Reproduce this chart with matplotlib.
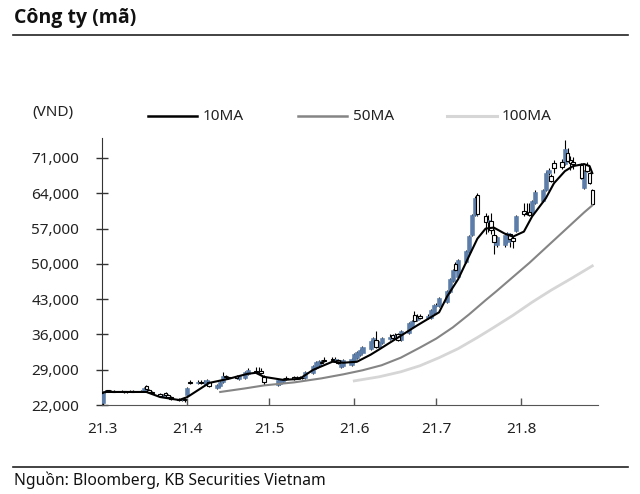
import matplotlib
matplotlib.use("Agg")
import matplotlib.pyplot as plt
import matplotlib.dates as mdates
from matplotlib.lines import Line2D
from matplotlib.ticker import FuncFormatter
import pandas as pd
import numpy as np

plt.rcParams['font.family'] = ['Noto Sans', 'DejaVu Sans']

# ---------------- data ----------------
holidays = ['2021-04-21', '2021-04-30', '2021-05-03']
dates = pd.bdate_range('2021-03-01', '2021-08-27')
dates = dates[~dates.isin(pd.to_datetime(holidays))]

opens = [
    # Mar
    22400, 24600, 24900, 24700, 24800, 24600, 24700, 24500, 24600, 24800, 24600, 24600,
    25800, 25000, 24600, 24200, 23800, 24400, 24000, 23600, 23200, 23000, 23200,
    # Apr
    24000, 26500, 26300, 26500, 26400, 26000, 26600, 25400, 25800, 26600, 27800, 27600,
    27800, 27200, 27400, 28200, 28800, 28600, 28800, 27600,
    # May
    26000, 26200, 26600, 27400, 27500, 27300, 27500, 27400, 27400, 28400, 29400, 30000,
    30600, 31000, 31200, 31000, 31000, 29600, 29800, 30000,
    # Jun
    30600, 31400, 32000, 32400, 33200, 34600, 35000, 33600, 34400, 35200, 35800, 35400,
    36000, 35000, 36200, 37400, 39800, 38800, 39600, 39200, 39200, 40200,
    # Jul
    41600, 41600, 42400, 44400, 46600, 50000, 47400, 50400, 52400, 55800, 59600, 63600,
    59400, 58400, 58600, 55800, 53800, 53800, 54400, 56000, 55200, 56600,
    # Aug
    60400, 60000, 60200, 60000, 62000, 62400, 64600, 68000, 67400, 70000, 70200, 69800,
    72000, 70600, 70200, 69600, 65000, 69600, 68000, 64600,
]
closes = [
    24400, 24800, 24700, 24800, 24600, 24700, 24500, 24600, 24800, 24600, 24700, 25400,
    25200, 24600, 24400, 23800, 24000, 24000, 23600, 23200, 23000, 23200, 23000,
    25400, 26300, 26500, 26400, 26500, 27000, 25800, 26000, 26600, 27800, 27500, 27400,
    27400, 27800, 28600, 29000, 28600, 28800, 28400, 26600,
    27000, 27000, 27200, 27200, 27200, 27400, 27300, 27300, 28600, 29800, 30600, 30800,
    30400, 30800, 31000, 31200, 30400, 30800, 31000, 31200,
    32200, 32600, 33000, 33600, 34800, 35400, 33600, 34600, 35400, 35600, 35400, 35800,
    35000, 36600, 38200, 38600, 38600, 39400, 39200, 39600, 40800, 41800,
    41800, 43200, 44600, 47000, 48800, 48800, 50800, 52600, 55600, 59600, 63000, 59800,
    58400, 58800, 56800, 54400, 55400, 55800, 56200, 55000, 54600, 59400,
    59800, 59800, 59600, 62400, 64200, 64600, 68000, 68600, 66400, 69000, 69200, 72800,
    70400, 70000, 69800, 67000, 68400, 68400, 66000, 61800,
]
highs = [
    24800, 25000, 25000, 25000, 24900, 24900, 24800, 24800, 25000, 24900, 24900, 25600,
    26000, 25200, 24800, 24400, 24200, 24600, 24200, 23800, 23400, 23400, 23400,
    25600, 27000, 27000, 27000, 27000, 27200, 26800, 26200, 26800, 28600, 28000, 27800,
    28000, 28000, 28800, 29400, 29600, 29600, 29400, 28000,
    27200, 27200, 27400, 27800, 27800, 27800, 27800, 27800, 28800, 30000, 30800, 31000,
    31000, 31600, 31600, 31600, 31200, 31000, 31200, 31400,
    32400, 32800, 33200, 33800, 35000, 35600, 36600, 34800, 35600, 36000, 36000, 36200,
    36200, 36800, 38400, 38800, 40600, 40000, 40000, 40000, 41000, 42000,
    42200, 43400, 44800, 47200, 49000, 50400, 51000, 52800, 55800, 59800, 63400, 64000,
    60000, 59600, 60000, 57000, 55600, 56000, 56400, 56200, 55600, 59600,
    62000, 62000, 62000, 62600, 64600, 64800, 68400, 69000, 67800, 70600, 70800, 74600,
    73000, 71400, 71200, 70000, 68600, 70200, 68200, 64800,
]
lows = [
    22000, 24400, 24600, 24600, 24500, 24500, 24400, 24400, 24500, 24500, 24500, 24500,
    25000, 24400, 24200, 23600, 23600, 23800, 23400, 23000, 22800, 22800, 22600,
    23800, 26100, 26200, 26200, 26200, 25800, 25600, 25200, 25600, 26400, 27200, 27200,
    27200, 27000, 27200, 28000, 28400, 28400, 28200, 26000,
    25800, 26000, 26400, 27000, 27000, 27100, 27100, 27100, 27200, 28200, 29200, 29800,
    30200, 30600, 30800, 30800, 30200, 29400, 29600, 29800,
    30400, 31200, 31800, 32200, 33000, 34400, 33400, 33400, 34200, 35000, 35200, 35200,
    34800, 34800, 36000, 37200, 38400, 38600, 39000, 39000, 39000, 40000,
    41400, 41400, 42200, 44200, 46400, 48600, 47200, 50200, 52200, 55600, 59400, 59400,
    56000, 56400, 56000, 52000, 53400, 53400, 54200, 53400, 53200, 56400,
    59400, 59600, 59400, 59800, 61800, 62200, 64400, 67600, 66200, 68000, 68800, 69600,
    70200, 68600, 68800, 66800, 64800, 68200, 65800, 61600,
]

ma10_dates = ['2021-03-01', '2021-03-02', '2021-03-17', '2021-03-22', '2021-03-29', '2021-04-01',
              '2021-04-09', '2021-04-16', '2021-04-23', '2021-04-26', '2021-04-29', '2021-05-06',
              '2021-05-12', '2021-05-17', '2021-05-24', '2021-05-28', '2021-06-02', '2021-06-07',
              '2021-06-10', '2021-06-17', '2021-06-24', '2021-07-02', '2021-07-05', '2021-07-09',
              '2021-07-13', '2021-07-16', '2021-07-19', '2021-07-22', '2021-07-26', '2021-07-29',
              '2021-08-02', '2021-08-05', '2021-08-10', '2021-08-13', '2021-08-17', '2021-08-20',
              '2021-08-24', '2021-08-26', '2021-08-27']
ma10_vals = [24400, 24600, 24600, 23600, 23000, 23600,
             26400, 27200, 28200, 28400, 27600, 27000,
             27200, 29000, 30600, 30400, 30600, 32000,
             33000, 35400, 37800, 40400, 43600, 47000,
             51600, 55000, 57000, 57200, 56000, 55400,
             56400, 59400, 63000, 66000, 68400, 69400,
             69800, 69400, 68000]

ma50_dates = ['2021-04-13', '2021-04-22', '2021-04-29', '2021-05-10', '2021-05-20', '2021-05-28',
              '2021-06-04', '2021-06-11', '2021-06-18', '2021-06-25', '2021-07-01', '2021-07-07',
              '2021-07-13', '2021-07-19', '2021-07-23', '2021-07-29', '2021-08-04', '2021-08-10',
              '2021-08-16', '2021-08-20', '2021-08-24', '2021-08-27']
ma50_vals = [24600, 25300, 25900, 26500, 27300, 28100,
             28900, 29900, 31400, 33400, 35200, 37400,
             40000, 42800, 44600, 47400, 50200, 53200,
             56200, 58200, 60200, 61600]

ma100_dates = ['2021-06-01', '2021-06-10', '2021-06-18', '2021-06-25', '2021-07-02', '2021-07-09',
               '2021-07-16', '2021-07-22', '2021-07-29', '2021-08-05', '2021-08-12', '2021-08-19',
               '2021-08-27']
ma100_vals = [26800, 27600, 28600, 29800, 31400, 33200, 35400, 37400, 39800, 42400, 44800, 47000, 49600]

yticks = [22000, 29000, 36000, 43000, 50000, 57000, 64000, 71000]
xtick_dates = ['2021-03-01', '2021-04-01', '2021-05-01', '2021-06-01', '2021-07-01', '2021-08-01']
xtick_labels = ['21.3', '21.4', '21.5', '21.6', '21.7', '21.8']

# ---------------- figure ----------------
fig = plt.figure(figsize=(6.4, 4.94), dpi=100)
ax = fig.add_axes([0.159, 0.180, 0.775, 0.541])

x = mdates.date2num(dates.to_pydatetime())
o = np.array(opens); c = np.array(closes); h = np.array(highs); l = np.array(lows)
up = c >= o
blue = '#5b7da8'

ax.vlines(x, l, h, color='black', lw=0.8, zorder=2)
ax.bar(x[up], (c - o)[up], bottom=o[up], width=1.5, color=blue, edgecolor=blue, lw=0.4, zorder=3)
ax.bar(x[~up], (o - c)[~up], bottom=c[~up], width=1.3, color='white', edgecolor='black', lw=0.8, zorder=3)

ax.plot(mdates.date2num(pd.to_datetime(ma100_dates).to_pydatetime()), ma100_vals, color='#d6d6d6', lw=2.0, zorder=4)
ax.plot(mdates.date2num(pd.to_datetime(ma50_dates).to_pydatetime()), ma50_vals, color='#858585', lw=1.5, zorder=4)
ax.plot(mdates.date2num(pd.to_datetime(ma10_dates).to_pydatetime()), ma10_vals, color='black', lw=1.5, zorder=5)

ax.set_xlim(mdates.date2num(pd.Timestamp('2021-03-01')) - 0.3, mdates.date2num(pd.Timestamp('2021-08-29')))
ax.set_ylim(22000, 75000)
ax.set_yticks(yticks)
ax.yaxis.set_major_formatter(FuncFormatter(lambda v, p: f'{int(v):,}'))
ax.set_xticks(mdates.date2num(pd.to_datetime(xtick_dates).to_pydatetime()))
ax.set_xticklabels(xtick_labels)

for s in ['top', 'right']:
    ax.spines[s].set_visible(False)
ax.spines['left'].set_color('#333333')
ax.spines['bottom'].set_color('#555555')
ax.tick_params(axis='y', direction='inout', length=8.5, width=1, color='#333333', pad=12, labelsize=11, labelcolor='#222222')
ax.tick_params(axis='x', direction='in', length=5, width=1, color='#555555', pad=12.5, labelsize=11, labelcolor='#222222')

# legend / labels
fig.text(0.05, 0.773, '(VND)', fontsize=11, color='#222222', va='center', ha='left')
leg_y = 0.765
for (x0, x1, tx, col, lw, lab) in [(0.231, 0.308, 0.317, 'black', 1.8, '10MA'),
                                    (0.466, 0.542, 0.552, '#858585', 1.8, '50MA'),
                                    (0.698, 0.777, 0.784, '#d6d6d6', 2.2, '100MA')]:
    fig.add_artist(Line2D([x0, x1], [leg_y, leg_y], color=col, lw=lw, transform=fig.transFigure))
    fig.text(tx, leg_y, lab, fontsize=11, color='#222222', va='center', ha='left')

# title & footer
fig.text(0.022, 0.963, 'Công ty (mã)', fontsize=14, fontweight='bold', family=['Open Sans', 'Roboto', 'DejaVu Sans'],
         color='#111111', va='center', ha='left')
fig.add_artist(Line2D([0.02, 0.982], [0.929, 0.929], color='#222222', lw=1.2, transform=fig.transFigure))
fig.add_artist(Line2D([0.02, 0.982], [0.055, 0.055], color='#222222', lw=1.2, transform=fig.transFigure))
fig.text(0.022, 0.028, 'Nguồn: Bloomberg, KB Securities Vietnam', fontsize=11.3, color='#111111', va='center', ha='left')

fig.savefig('out.png', dpi=100)
